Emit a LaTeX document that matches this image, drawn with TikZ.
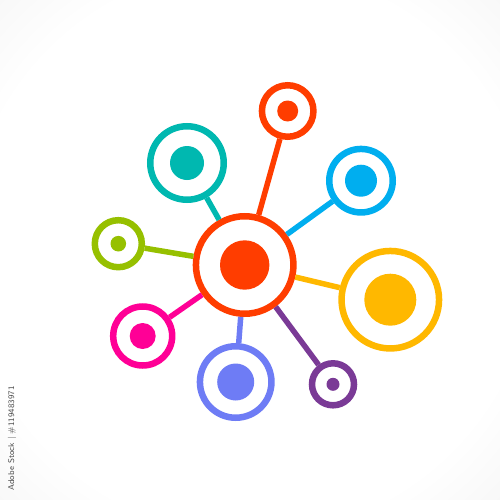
\documentclass[tikz,border=0pt]{standalone}
\usepackage{xcolor}
\definecolor{hubred}{RGB}{255,61,0}
\definecolor{myteal}{RGB}{0,184,176}
\definecolor{myblue}{RGB}{0,174,239}
\definecolor{mygreen}{RGB}{150,192,0}
\definecolor{myyellow}{RGB}{255,184,0}
\definecolor{mymagenta}{RGB}{255,0,150}
\definecolor{myviolet}{RGB}{110,124,245}
\definecolor{mypurple}{RGB}{122,58,150}
\usepackage{tikz}
\pgfdeclareradialshading{paper}{\pgfpoint{0bp}{0bp}}{color(0bp)=(white); color(28bp)=(white); color(50bp)=(black!8); color(71bp)=(black!14)}

\begin{document}
\begin{tikzpicture}[x=0.2mm,y=-0.2mm]
	\tikzstyle{ring}=[circle,fill=white,inner sep=0pt,line width=1.3mm];
	\tikzstyle{link}=[line width=1.1mm];
	\shade[shading=paper] (0,0) rectangle (500,500);
	% rings
	\node[ring,draw=hubred,minimum size=19.5mm] (0) at (244.7,265) {};
	\node[ring,draw=hubred,minimum size=10.3mm] (1) at (287.7,111) {};
	\node[ring,draw=myteal,minimum size=14.7mm] (2) at (187,163) {};
	\node[ring,draw=myblue,minimum size=12.7mm] (3) at (361,180.7) {};
	\node[ring,draw=mygreen,minimum size=9.4mm] (4) at (118.3,243.7) {};
	\node[ring,draw=myyellow,minimum size=19.5mm] (5) at (390.3,299.7) {};
	\node[ring,draw=mymagenta,minimum size=11.8mm] (6) at (142.7,336) {};
	\node[ring,draw=myviolet,minimum size=14.3mm] (7) at (235.7,382) {};
	\node[ring,draw=mypurple,minimum size=8.4mm] (8) at (333,384.3) {};
	% dots
	\fill[hubred] (0) circle (24.7);
	\fill[hubred] (1) circle (10.5);
	\fill[myteal] (2) circle (17);
	\fill[myblue] (3) circle (16);
	\fill[mygreen] (4) circle (7.8);
	\fill[myyellow] (5) circle (26);
	\fill[mymagenta] (6) circle (13);
	\fill[myviolet] (7) circle (18.5);
	\fill[mypurple] (8) circle (6.5);
	% links
	\draw[link,hubred] (0) to (1);
	\draw[link,myteal] (0) to (2);
	\draw[link,myblue] (0) to (3);
	\draw[link,mygreen] (0) to (4);
	\draw[link,myyellow] (0) to (5);
	\draw[link,mymagenta] (0) to (6);
	\draw[link,myviolet] (0) to (7);
	\draw[link,mypurple] (0) to (8);
	\node[rotate=90,anchor=west,inner sep=0pt,text=black!70,font=\sffamily\fontsize{4.8}{5}\selectfont] (credit) at (12,491) {Adobe Stock | \#119483971};
\end{tikzpicture}
\end{document}
